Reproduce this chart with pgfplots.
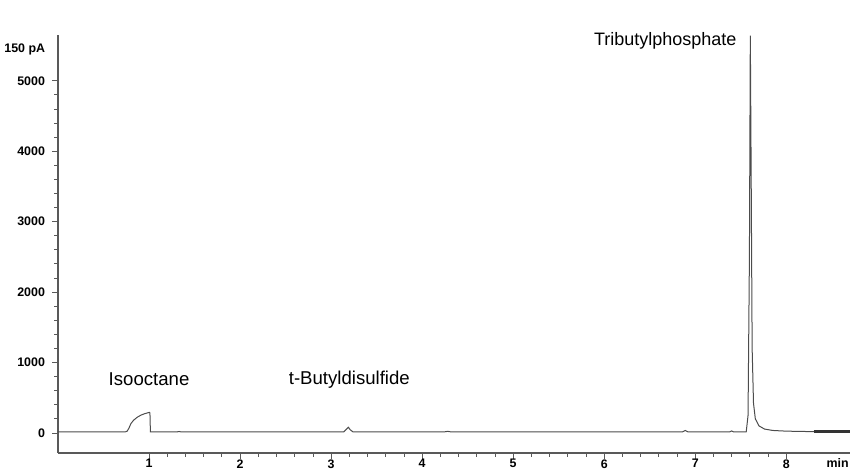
\documentclass[border=0pt]{standalone}
\usepackage{pgfplots}
\pgfplotsset{compat=1.18}
\usepackage{fontspec}
\setmainfont{Liberation Sans}
\begin{document}
\begin{tikzpicture}
\begin{axis}[
  name=ax,
  scale only axis,
  width=396pt, height=209pt,
  xmin=0, xmax=8.7,
  ymin=-285, ymax=5650,
  axis x line=bottom, axis y line=left,
  axis line style={-, gray!70!black, line width=0.6pt},
  tick align=outside,
  xtick={1,2,3,4,5,6,7,8},
  minor x tick num=4,
  ytick={0,1000,2000,3000,4000,5000},
  minor y tick num=4,
  major tick length=3pt, minor tick length=2pt,
  tick style={gray!70!black, line width=0.4pt},
  ticklabel style={font=\fontsize{6.2}{7}\selectfont\bfseries},
  xticklabel style={inner sep=0.5pt, yshift=0.5pt},
  /pgf/number format/assume math mode=true,
  /pgf/number format/set thousands separator={},
  clip=false,
]
\addplot[gray!60!black, line width=0.5pt] coordinates {
(0,15) (0.74,15) (0.76,25) (0.78,70) (0.80,130) (0.83,180) (0.87,222) (0.91,252) (0.95,272) (0.99,287) (1.005,292) (1.01,280) (1.015,15)
(1.30,13) (1.33,20) (1.36,13) (2.0,14) (3.14,15) (3.17,55) (3.19,80) (3.21,45) (3.24,15)
(4.25,16) (4.28,22) (4.31,16) (5.5,15) (6.86,15) (6.89,35) (6.92,15) (7.38,15) (7.40,28) (7.42,15)
(7.56,15) (7.58,250) (7.595,2500) (7.605,5640) (7.615,3500) (7.625,1200) (7.64,420) (7.66,200) (7.70,100) (7.76,55) (7.85,35) (8.0,25) (8.3,18) (8.7,18)
};
\addplot[gray!40!black, line width=1.4pt] coordinates {(8.3,18) (8.7,18)};
\node[font=\fontsize{9.3}{10}\selectfont] at (axis cs:1.0,760) {Isooctane};
\node[font=\fontsize{9.3}{10}\selectfont] at (axis cs:3.2,760) {t-Butyldisulfide};
\node[font=\fontsize{9}{10}\selectfont, anchor=east] at (axis cs:7.53,5560) {Tributylphosphate};
\node[font=\fontsize{6.2}{7}\selectfont\bfseries, anchor=west, inner sep=0pt] at ([xshift=-27pt]axis cs:0,5440) {150 pA};
\node[font=\fontsize{6.2}{7}\selectfont\bfseries, anchor=east, inner sep=0pt] at ([xshift=-0.5pt, yshift=-5.2pt]axis cs:8.7,-285) {min};
\end{axis}
\pgfresetboundingbox
\path ([shift={(-29pt,-9.5pt)}]ax.south west) rectangle ([shift={(0pt,17.5pt)}]ax.north east);
\end{tikzpicture}
\end{document}
